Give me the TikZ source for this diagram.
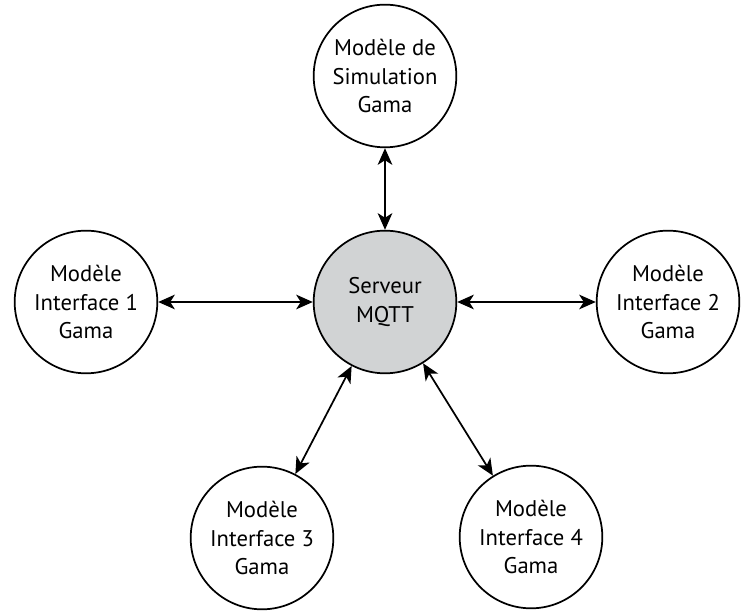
\documentclass[tikz,border=0pt]{standalone}
\usepackage{fontspec}
\setmainfont{PT Sans}
\usetikzlibrary{arrows.meta}
\definecolor{servergray}{RGB}{209,211,212}

\begin{document}
\begin{tikzpicture}[x=0.75pt,y=0.75pt,
  model/.style={circle,draw,line width=1.3pt,minimum size=107pt,inner sep=0pt,
    align=center,font=\fontsize{17}{21.5}\selectfont},
  server/.style={model,fill=servergray},
  link/.style={line width=1.3pt,{Stealth[length=12.5pt,width=11pt,inset=3.5pt]}-{Stealth[length=12.5pt,width=11pt,inset=3.5pt]}}]
\useasboundingbox (0,0) rectangle (741,613);
\node[server] (mqtt) at (385,311) {Serveur\\MQTT};
\node[model] (simu) at (385,537) {Modèle de\\Simulation\\Gama};
\node[model] (int1) at (86,311) {Modèle\\Interface 1\\Gama};
\node[model] (int2) at (668,311) {Modèle\\Interface 2\\Gama};
\node[model] (int3) at (262,75) {Modèle\\Interface 3\\Gama};
\node[model] (int4) at (531,76) {Modèle\\Interface 4\\Gama};
\draw[link] (simu) -- (mqtt);
\draw[link] (int1) -- (mqtt);
\draw[link] (int2) -- (mqtt);
\draw[link] (int3) -- (mqtt);
\draw[link] (int4) -- (mqtt);
\end{tikzpicture}
\end{document}
